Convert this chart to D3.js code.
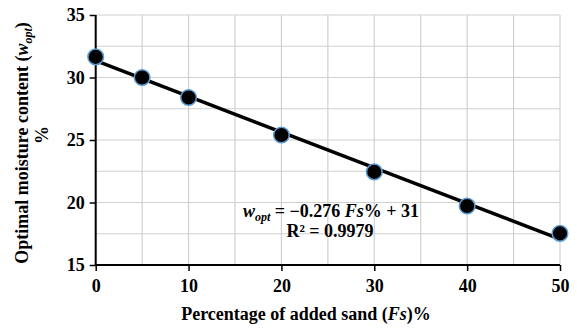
<!DOCTYPE html>
<html>
<head>
<meta charset="utf-8">
<script src="https://cdn.jsdelivr.net/npm/d3@7"></script>
<style>
  html, body { margin: 0; padding: 0; background: #fff; }
  svg { display: block; }
  text { font-family: "Liberation Serif", "Times New Roman", serif; font-weight: bold; fill: #000; }
</style>
</head>
<body>
<script>
// Sand content (%) and measured optimal moisture content (%)
const sandPct = [0, 5, 10, 20, 30, 40, 50];
const moisture = [31.65, 30.0, 28.4, 25.4, 22.45, 19.72, 17.53];

const xTickValues = [0, 10, 20, 30, 40, 50];
const yTickValues = [15, 20, 25, 30, 35];
const xGridValues = [0, 5, 10, 15, 20, 25, 30, 35, 40, 45, 50];
const yGridValues = [15, 17.5, 20, 22.5, 25, 27.5, 30, 32.5, 35];

const W = 577, H = 328;
const plotL = 95.7, plotR = 560, plotT = 15, plotB = 265;
const FS = 18;

const svg = d3.select("body").append("svg").attr("width", W).attr("height", H);

const x = d3.scaleLinear().domain([0, 50]).range([plotL, plotR]);
const y = d3.scaleLinear().domain([15, 35]).range([plotB, plotT]);

// grid
const grid = svg.append("g").attr("stroke", "#d0d0d0").attr("stroke-width", 1.2);
grid.selectAll("line.v").data(xGridValues).join("line").attr("class", "v")
  .attr("x1", d => x(d)).attr("x2", d => x(d)).attr("y1", plotT).attr("y2", plotB);
grid.selectAll("line.h").data(yGridValues).join("line").attr("class", "h")
  .attr("y1", d => y(d)).attr("y2", d => y(d)).attr("x1", plotL).attr("x2", plotR);

// axes
const xAxis = d3.axisBottom(x).tickValues(xTickValues).tickSize(6).tickPadding(8).tickFormat(d3.format("d"));
const yAxis = d3.axisLeft(y).tickValues(yTickValues).tickSize(6).tickPadding(5).tickFormat(d3.format("d"));

const gx = svg.append("g").attr("transform", `translate(0,${plotB})`).call(xAxis);
const gy = svg.append("g").attr("transform", `translate(${plotL},0)`).call(yAxis);
[gx, gy].forEach(g => {
  g.select(".domain").attr("stroke", "#000").attr("stroke-width", 2);
  g.selectAll(".tick line").attr("stroke", "#000").attr("stroke-width", 1.5);
  g.selectAll(".tick text").attr("font-size", FS).attr("font-family", "Liberation Serif").attr("font-weight", "bold");
});
gx.select(".domain").attr("d", `M${plotL},0H${plotR}`);
gy.select(".domain").attr("d", `M0,${plotT}V${plotB}`);

// least-squares trend line through the measurements
const mx = d3.mean(sandPct), my = d3.mean(moisture);
const sxy = d3.sum(sandPct, (v, i) => (v - mx) * (moisture[i] - my));
const sxx = d3.sum(sandPct, v => (v - mx) * (v - mx));
const slope = sxy / sxx, intercept = my - slope * mx;
const trend = [0, 50].map(v => [v, intercept + slope * v]);

svg.append("path")
  .attr("d", d3.line().x(d => x(d[0])).y(d => y(d[1]))(trend))
  .attr("stroke", "#000").attr("stroke-width", 3.5).attr("fill", "none");

// measured points
svg.append("g").selectAll("circle").data(sandPct.map((v, i) => [v, moisture[i]])).join("circle")
  .attr("cx", d => x(d[0])).attr("cy", d => y(d[1])).attr("r", 7.8)
  .attr("fill", "#000").attr("stroke", "#5b9bd5").attr("stroke-width", 1.5);

// equation
const eq = svg.append("text").attr("x", 331).attr("y", 217).attr("text-anchor", "middle").attr("font-size", FS);
eq.append("tspan").attr("font-style", "italic").text("w");
eq.append("tspan").attr("font-style", "italic").attr("font-size", 12).attr("dy", 4).text("opt");
eq.append("tspan").attr("dy", -4).text(" = \u22120.276 ");
eq.append("tspan").attr("font-style", "italic").text("Fs");
eq.append("tspan").text("% + 31");
svg.append("text").attr("x", 330).attr("y", 237).attr("text-anchor", "middle").attr("font-size", FS).text("R\u00b2 = 0.9979");

// x title
const xt = svg.append("text").attr("x", 306).attr("y", 320).attr("text-anchor", "middle").attr("font-size", FS);
xt.append("tspan").text("Percentage of added sand (");
xt.append("tspan").attr("font-style", "italic").text("Fs");
xt.append("tspan").text(")%");

// y title (two lines)
const yt = svg.append("text").attr("transform", "translate(28,143) rotate(-90)").attr("text-anchor", "middle").attr("font-size", FS);
yt.append("tspan").text("Optimal moisture content (");
yt.append("tspan").attr("font-style", "italic").text("w");
yt.append("tspan").attr("font-style", "italic").attr("font-size", 12).attr("dy", 4).text("opt");
yt.append("tspan").attr("dy", -4).text(")");
svg.append("text").attr("transform", "translate(48,135) rotate(-90)").attr("text-anchor", "middle").attr("font-size", FS).text("%");
</script>
</body>
</html>
